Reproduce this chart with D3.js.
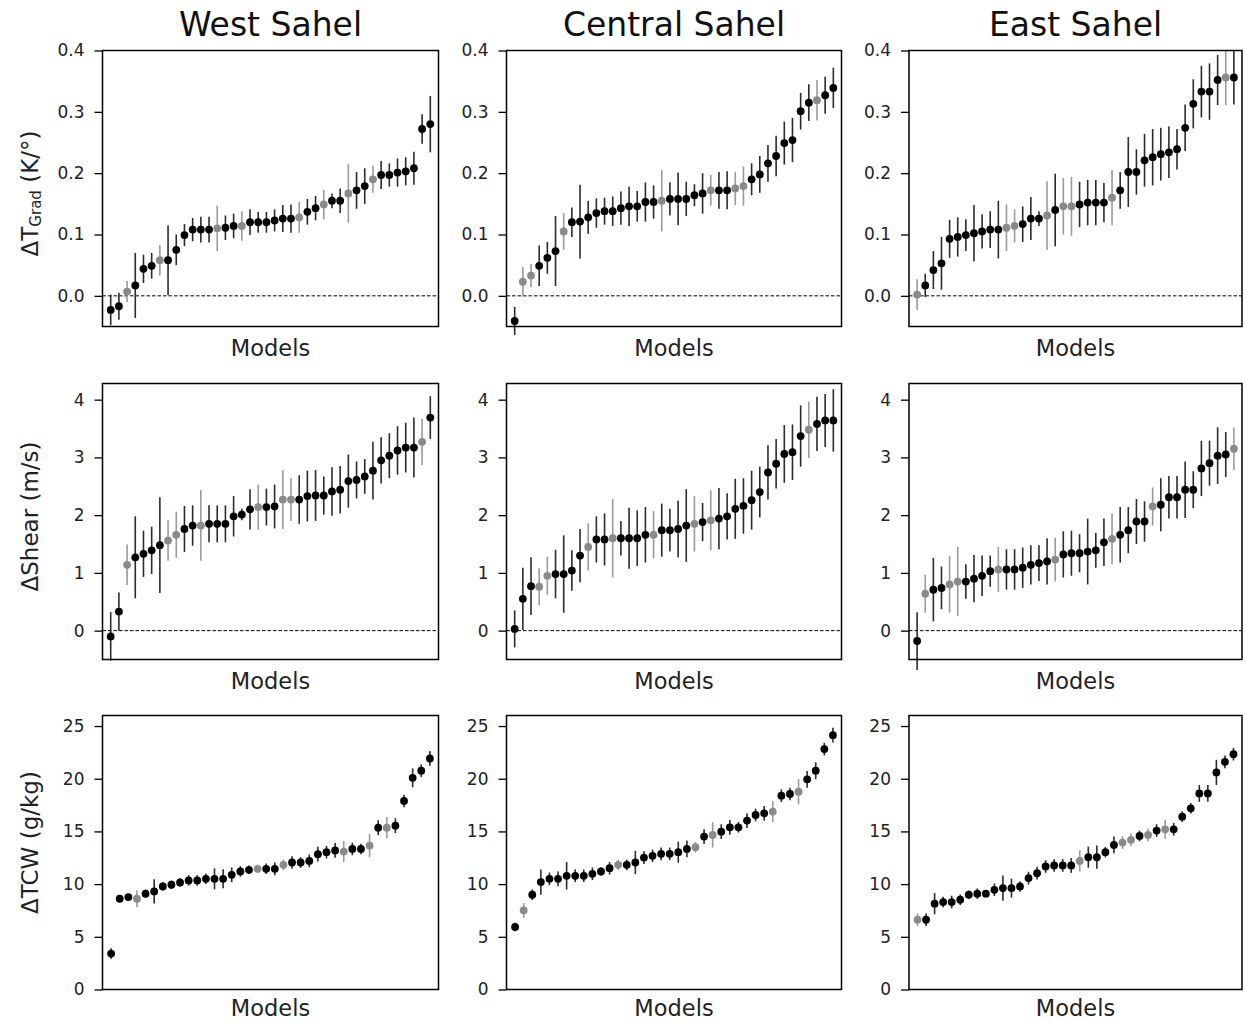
<!DOCTYPE html>
<html>
<head>
<meta charset="utf-8">
<script src="https://cdn.jsdelivr.net/npm/d3@7"></script>
<style>
  body { margin: 0; background: #fff; }
  svg { display: block; font-family: "DejaVu Sans", sans-serif; }
</style>
</head>
<body>
<svg id="chart" width="1246" height="1022"></svg>
<script>
// ---------------- DATA ----------------
const regions = ["West Sahel", "Central Sahel", "East Sahel"];
const xLabel = "Models";

const tgradTicks = [0.0, 0.1, 0.2, 0.3, 0.4];
const shearTicks = [0, 1, 2, 3, 4];
const tcwTicks = [0, 5, 10, 15, 20, 25];

// Delta T_Grad (K/deg)
const westTGrad = [-0.023, -0.017, 0.007, 0.017, 0.044, 0.049, 0.058, 0.058, 0.075, 0.099, 0.108, 0.108, 0.108, 0.110, 0.111, 0.114, 0.114, 0.120, 0.120, 0.120, 0.123, 0.126, 0.126, 0.128, 0.137, 0.143, 0.149, 0.155, 0.155, 0.167, 0.172, 0.179, 0.190, 0.197, 0.197, 0.201, 0.203, 0.208, 0.272, 0.280];
const westTGradErr = [0.025, 0.022, 0.017, 0.053, 0.023, 0.021, 0.025, 0.057, 0.025, 0.018, 0.019, 0.021, 0.021, 0.037, 0.020, 0.020, 0.024, 0.021, 0.017, 0.017, 0.018, 0.022, 0.023, 0.025, 0.021, 0.020, 0.024, 0.012, 0.020, 0.048, 0.030, 0.029, 0.022, 0.023, 0.019, 0.023, 0.023, 0.027, 0.024, 0.046];
const westTGradGroup = [0,0,1,0,0,0,1,0,0,0, 0,0,0,1,0,0,1,0,0,0, 0,0,0,1,0,0,1,0,0,1, 0,0,1,0,0,0,0,0,0,0];

const centralTGrad = [-0.041, 0.023, 0.033, 0.049, 0.062, 0.073, 0.105, 0.120, 0.121, 0.128, 0.135, 0.138, 0.138, 0.143, 0.146, 0.146, 0.153, 0.153, 0.155, 0.158, 0.158, 0.158, 0.164, 0.167, 0.172, 0.172, 0.172, 0.175, 0.179, 0.190, 0.198, 0.216, 0.228, 0.249, 0.254, 0.301, 0.315, 0.319, 0.327, 0.339];
const centralTGradErr = [0.023, 0.024, 0.019, 0.033, 0.026, 0.057, 0.030, 0.024, 0.060, 0.027, 0.024, 0.022, 0.024, 0.027, 0.032, 0.025, 0.032, 0.027, 0.050, 0.027, 0.043, 0.028, 0.018, 0.033, 0.025, 0.030, 0.031, 0.027, 0.032, 0.026, 0.030, 0.030, 0.033, 0.035, 0.036, 0.030, 0.030, 0.033, 0.030, 0.033];
const centralTGradGroup = [0,1,1,0,0,0,1,0,0,0, 0,0,0,0,0,0,0,0,1,0, 0,0,0,0,1,0,0,1,1,0, 0,0,0,0,0,0,0,1,0,0];

const eastTGrad = [0.002, 0.017, 0.042, 0.053, 0.093, 0.096, 0.099, 0.102, 0.105, 0.108, 0.108, 0.111, 0.114, 0.117, 0.126, 0.126, 0.131, 0.140, 0.146, 0.146, 0.149, 0.152, 0.152, 0.152, 0.160, 0.172, 0.202, 0.202, 0.221, 0.226, 0.231, 0.234, 0.239, 0.274, 0.313, 0.333, 0.333, 0.352, 0.356, 0.356];
const eastTGradErr = [0.025, 0.019, 0.031, 0.043, 0.031, 0.032, 0.026, 0.046, 0.028, 0.030, 0.047, 0.038, 0.027, 0.029, 0.035, 0.012, 0.056, 0.059, 0.046, 0.048, 0.037, 0.037, 0.037, 0.032, 0.045, 0.030, 0.057, 0.037, 0.043, 0.046, 0.043, 0.042, 0.033, 0.038, 0.040, 0.042, 0.046, 0.041, 0.045, 0.044];
const eastTGradGroup = [1,0,0,0,0,0,0,0,0,0, 0,1,1,0,0,0,1,0,1,1, 0,0,0,0,1,0,0,0,0,0, 0,0,0,0,0,0,0,0,1,0];

// Delta Shear (m/s)
const westShear = [-0.10, 0.33, 1.14, 1.27, 1.33, 1.39, 1.48, 1.56, 1.66, 1.76, 1.82, 1.82, 1.85, 1.85, 1.85, 1.98, 2.01, 2.10, 2.14, 2.14, 2.15, 2.27, 2.27, 2.27, 2.33, 2.34, 2.34, 2.41, 2.44, 2.59, 2.61, 2.67, 2.77, 2.95, 3.03, 3.12, 3.17, 3.17, 3.27, 3.69];
const westShearErr = [0.42, 0.33, 0.35, 0.71, 0.40, 0.41, 0.83, 0.35, 0.40, 0.40, 0.35, 0.61, 0.32, 0.32, 0.32, 0.35, 0.10, 0.35, 0.39, 0.32, 0.38, 0.51, 0.37, 0.42, 0.44, 0.44, 0.33, 0.42, 0.41, 0.46, 0.32, 0.30, 0.50, 0.40, 0.39, 0.42, 0.43, 0.52, 0.40, 0.37];
const westShearGroup = [0,0,1,0,0,0,0,1,1,0, 0,1,0,0,0,0,0,0,1,0, 0,1,1,0,0,0,0,0,0,0, 0,0,0,0,0,0,0,0,1,0];

const centralShear = [0.03, 0.55, 0.77, 0.76, 0.95, 0.98, 0.98, 1.04, 1.30, 1.45, 1.58, 1.58, 1.60, 1.60, 1.60, 1.60, 1.66, 1.66, 1.74, 1.74, 1.76, 1.82, 1.85, 1.88, 1.91, 1.94, 1.98, 2.11, 2.16, 2.26, 2.40, 2.74, 2.89, 3.06, 3.09, 3.37, 3.48, 3.58, 3.64, 3.64];
const centralShearErr = [0.32, 0.54, 0.50, 0.32, 0.33, 0.42, 0.67, 0.35, 0.46, 0.41, 0.40, 0.45, 0.68, 0.30, 0.53, 0.48, 0.48, 0.41, 0.46, 0.37, 0.49, 0.63, 0.48, 0.33, 0.52, 0.53, 0.40, 0.52, 0.48, 0.51, 0.44, 0.47, 0.43, 0.50, 0.48, 0.53, 0.49, 0.47, 0.46, 0.54];
const centralShearGroup = [0,0,0,1,1,0,0,0,0,1, 0,0,1,0,0,0,0,1,0,0, 0,0,1,0,1,0,0,0,0,0, 0,0,0,0,0,0,1,0,0,0];

const eastShear = [-0.18, 0.64, 0.71, 0.74, 0.80, 0.85, 0.85, 0.90, 0.95, 1.03, 1.06, 1.06, 1.06, 1.09, 1.14, 1.17, 1.20, 1.23, 1.32, 1.34, 1.34, 1.37, 1.39, 1.53, 1.59, 1.66, 1.74, 1.89, 1.89, 2.15, 2.18, 2.31, 2.31, 2.44, 2.44, 2.81, 2.90, 3.03, 3.05, 3.15];
const eastShearErr = [0.50, 0.33, 0.55, 0.37, 0.49, 0.60, 0.30, 0.41, 0.35, 0.27, 0.39, 0.35, 0.35, 0.35, 0.34, 0.31, 0.40, 0.38, 0.40, 0.39, 0.33, 0.57, 0.30, 0.41, 0.44, 0.48, 0.40, 0.39, 0.35, 0.33, 0.46, 0.37, 0.37, 0.49, 0.32, 0.48, 0.39, 0.49, 0.39, 0.37];
const eastShearGroup = [0,1,0,0,1,1,0,0,0,0, 1,0,0,0,0,0,0,1,0,0, 0,0,0,0,1,0,0,0,0,1, 0,0,0,0,0,0,0,0,0,1];

// Delta TCW (g/kg)
const westTCW = [3.41, 8.61, 8.77, 8.61, 9.09, 9.31, 9.78, 9.94, 10.16, 10.35, 10.35, 10.5, 10.5, 10.5, 10.88, 11.2, 11.36, 11.45, 11.45, 11.45, 11.83, 12.05, 12.05, 12.2, 12.84, 13.03, 13.19, 13.09, 13.34, 13.34, 13.66, 15.36, 15.36, 15.55, 17.89, 20.09, 20.76, 21.92];
const westTCWErr = [0.5, 0.3, 0.3, 0.8, 0.4, 1.15, 0.4, 0.4, 0.4, 0.5, 0.5, 0.5, 1.0, 0.9, 0.7, 0.5, 0.4, 0.4, 0.5, 0.6, 0.5, 0.6, 0.5, 0.6, 0.7, 0.6, 0.7, 1.0, 0.6, 0.5, 1.1, 0.7, 1.0, 0.7, 0.6, 0.9, 0.6, 0.7];
const westTCWGroup = [0,0,0,1,0,0,0,0,0,0, 0,0,0,0,0,0,0,1,0,0, 1,0,0,0,0,0,0,1,0,0, 1,0,1,0,0,0,0,0];

const centralTCW = [5.93, 7.51, 8.99, 10.19, 10.5, 10.5, 10.79, 10.79, 10.79, 10.98, 11.2, 11.51, 11.83, 11.83, 12.05, 12.52, 12.68, 12.87, 12.87, 13.03, 13.34, 13.5, 14.51, 14.67, 14.98, 15.39, 15.39, 16.03, 16.56, 16.72, 16.88, 18.39, 18.55, 18.77, 19.94, 20.76, 22.81, 24.13];
const centralTCWErr = [0.4, 0.7, 0.5, 1.2, 0.6, 0.7, 1.3, 0.6, 0.6, 0.6, 0.4, 0.6, 0.5, 0.5, 1.1, 0.6, 0.6, 0.6, 0.6, 1.0, 0.8, 0.5, 0.7, 1.2, 0.7, 0.7, 0.5, 0.7, 0.6, 0.7, 1.0, 0.6, 0.6, 1.2, 0.8, 0.8, 0.6, 0.7];
const centralTCWGroup = [0,1,0,0,0,0,0,0,0,0, 0,0,1,0,0,0,0,0,0,0, 0,1,0,1,0,0,0,0,0,0, 1,0,0,1,0,0,0,0];

const eastTCW = [6.62, 6.62, 8.14, 8.30, 8.30, 8.52, 8.99, 9.09, 9.09, 9.46, 9.62, 9.62, 9.78, 10.57, 11.04, 11.67, 11.77, 11.77, 11.77, 12.2, 12.56, 12.56, 13.03, 13.72, 13.94, 14.2, 14.57, 14.67, 15.08, 15.2, 15.2, 16.4, 17.19, 18.61, 18.61, 20.6, 21.6, 22.33];
const eastTCWErr = [0.6, 0.6, 1.0, 0.5, 0.6, 0.5, 0.4, 0.5, 0.3, 0.6, 1.2, 0.9, 0.5, 0.6, 0.6, 0.6, 0.6, 0.6, 0.7, 1.0, 1.0, 1.1, 0.5, 0.8, 0.6, 0.6, 0.5, 0.6, 0.6, 0.9, 0.6, 0.5, 0.5, 0.8, 0.8, 1.2, 0.6, 0.6];
const eastTCWGroup = [1,0,0,0,0,0,0,0,0,0, 0,0,0,0,0,0,0,0,0,1, 0,0,0,0,1,1,0,1,0,1, 0,0,0,0,0,0,0,0];

// ---------------- LAYOUT ----------------
const svg = d3.select("#chart");
const colLeft = [102.5, 506.5, 909];
const colWidth = [336, 335, 333];
const rowTop = [50.5, 383.5, 715.5];
const rowHeight = [276, 276, 274];
const xLabelOffset = [29.5, 29.5, 26];

const rows = [
  { domain: [-0.05, 0.40], ticks: tgradTicks, fmt: d3.format(".1f"), zero: true,
    series: [[westTGrad, westTGradErr, westTGradGroup], [centralTGrad, centralTGradErr, centralTGradGroup], [eastTGrad, eastTGradErr, eastTGradGroup]] },
  { domain: [-0.5, 4.28], ticks: shearTicks, fmt: d3.format("d"), zero: true,
    series: [[westShear, westShearErr, westShearGroup], [centralShear, centralShearErr, centralShearGroup], [eastShear, eastShearErr, eastShearGroup]] },
  { domain: [0, 26], ticks: tcwTicks, fmt: d3.format("d"), zero: false,
    series: [[westTCW, westTCWErr, westTCWGroup], [centralTCW, centralTCWErr, centralTCWGroup], [eastTCW, eastTCWErr, eastTCWGroup]] }
];

const dotColor = ["#000000", "#8a8a8a"];
const barColor = ["#2b2b2b", "#9a9a9a"];

rows.forEach((row, ri) => {
  row.series.forEach((s, ci) => {
    const [vals, errs, grp] = s;
    const n = vals.length;
    const x0 = colLeft[ci], y0 = rowTop[ri], w = colWidth[ci], h = rowHeight[ri];
    const g = svg.append("g").attr("transform", `translate(${x0},${y0})`);
    const x = d3.scaleLinear().domain([0, n + 1]).range([0, w]);
    const y = d3.scaleLinear().domain(row.domain).range([h, 0]);

    if (row.zero) {
      g.append("line")
        .attr("x1", 0).attr("x2", w)
        .attr("y1", y(0)).attr("y2", y(0))
        .attr("stroke", "#000").attr("stroke-width", 1)
        .attr("stroke-dasharray", "3.5,2");
    }

    const data = vals.map((v, i) => ({ i: i + 1, v, e: errs[i], g: grp[i] }));

    g.selectAll("line.err").data(data).enter().append("line")
      .attr("class", "err")
      .attr("x1", d => x(d.i)).attr("x2", d => x(d.i))
      .attr("y1", d => y(d.v - d.e)).attr("y2", d => y(d.v + d.e))
      .attr("stroke", d => barColor[d.g]).attr("stroke-width", 1.6);

    g.selectAll("circle").data(data).enter().append("circle")
      .attr("cx", d => x(d.i)).attr("cy", d => y(d.v))
      .attr("r", 3.9)
      .attr("fill", d => dotColor[d.g]);

    g.append("rect").attr("x", 0).attr("y", 0).attr("width", w).attr("height", h)
      .attr("fill", "none").attr("stroke", "#000").attr("stroke-width", 1.5);

    const ax = g.append("g").call(d3.axisLeft(y).tickValues(row.ticks).tickFormat(row.fmt).tickSize(8).tickPadding(10));
    ax.select(".domain").remove();
    ax.selectAll(".tick line").attr("stroke", "#000").attr("stroke-width", 1.3);
    ax.selectAll(".tick text").attr("font-size", 17).attr("font-family", "DejaVu Sans").attr("fill", "#222");

    g.append("text").attr("x", w / 2).attr("y", h + xLabelOffset[ri])
      .attr("text-anchor", "middle").attr("font-size", 22.5).attr("fill", "#222")
      .text(xLabel);
  });
});

regions.forEach((r, ci) => {
  svg.append("text")
    .attr("x", colLeft[ci] + colWidth[ci] / 2).attr("y", 36)
    .attr("text-anchor", "middle").attr("font-size", 33).attr("fill", "#111")
    .text(r);
});

const yl = (cy) => svg.append("text")
  .attr("transform", `translate(30,${cy}) rotate(-90)`)
  .attr("text-anchor", "middle").attr("dominant-baseline", "central")
  .attr("font-size", 23).attr("fill", "#222");

const t1 = yl(rowTop[0] + rowHeight[0] / 2 + 5);
t1.append("tspan").text("ΔT");
t1.append("tspan").attr("font-size", 15).attr("dy", 6).text("Grad");
t1.append("tspan").attr("dy", -6).text(" (K/°)");
yl(rowTop[1] + rowHeight[1] / 2 - 5).text("ΔShear (m/s)");
yl(rowTop[2] + rowHeight[2] / 2 - 10).text("ΔTCW (g/kg)");
</script>
</body>
</html>
